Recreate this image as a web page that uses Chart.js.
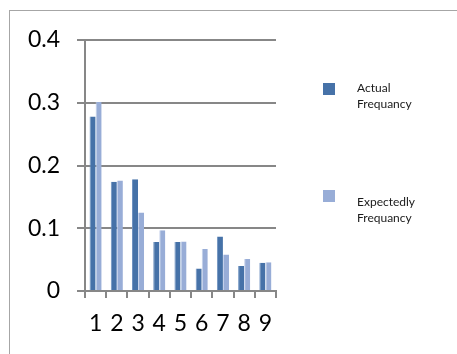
<!DOCTYPE html>
<html>
<head>
<meta charset="utf-8">
<script src="https://cdn.jsdelivr.net/npm/chart.js@4/dist/chart.umd.min.js"></script>
<style>
  html, body { margin: 0; padding: 0; background: #fff; }
  #wrap { position: relative; width: 457px; height: 354px; overflow: hidden; }
  #frame { position: absolute; left: 9px; top: 10px; width: 470px; height: 360px;
           border: 1px solid #a6a6a6; box-sizing: border-box; }
  canvas { position: absolute; left: 0; top: 0; }
</style>
</head>
<body>
<div id="wrap">
  <div id="frame"></div>
  <canvas id="c" width="457" height="354"></canvas>
</div>
<script>
// Leading-digit frequencies: observed vs. Benford expectation
const digits = ['1', '2', '3', '4', '5', '6', '7', '8', '9'];
const actualFrequency = [0.278, 0.174, 0.178, 0.078, 0.078, 0.036, 0.087, 0.040, 0.045];
const expectedFrequency = [0.301, 0.176, 0.125, 0.097, 0.079, 0.067, 0.058, 0.051, 0.046];
const seriesNames = [['Actual', 'Frequancy'], ['Expectedly', 'Frequancy']];
const yTicks = [0, 0.1, 0.2, 0.3, 0.4];

const FONT = 'Lato, "Open Sans", sans-serif';
const GRID = '#878787';

// Two-line legend drawn at the right of the plot
const sideLegend = {
  id: 'sideLegend',
  afterDraw(chart) {
    const ctx = chart.ctx;
    const spots = [{ box: 83, text: 91.5 }, { box: 190, text: 206 }];
    ctx.save();
    ctx.font = '12px ' + FONT;
    ctx.fillStyle = '#1a1a1a';
    ctx.textBaseline = 'alphabetic';
    chart.data.datasets.forEach((ds, i) => {
      const s = spots[i];
      ctx.fillStyle = ds.backgroundColor;
      ctx.fillRect(323, s.box, 12, 12);
      ctx.fillStyle = '#1a1a1a';
      ds.label.forEach((line, j) => {
        ctx.fillText(line, 357, s.text + j * 16);
      });
    });
    ctx.restore();
  }
};

new Chart(document.getElementById('c'), {
  type: 'bar',
  data: {
    labels: digits,
    datasets: [
      { label: seriesNames[0], data: actualFrequency, backgroundColor: '#4672A8',
        borderColor: '#6f92c0', borderWidth: { left: 1, right: 0, top: 0, bottom: 0 } },
      { label: seriesNames[1], data: expectedFrequency, backgroundColor: '#98ADD7',
        borderColor: '#c3d0ea', borderWidth: { left: 1, right: 0, top: 0, bottom: 0 } }
    ]
  },
  options: {
    responsive: false,
    animation: false,
    devicePixelRatio: 1,
    layout: { padding: { left: 0, right: 181, top: 40, bottom: 0 } },
    datasets: { bar: { categoryPercentage: 0.57, barPercentage: 1.0 } },
    plugins: { legend: { display: false }, tooltip: { enabled: false } },
    scales: {
      x: {
        afterFit(s) { s.height = 63; },
        grid: { display: true, drawOnChartArea: false, drawTicks: true, tickLength: 7,
                color: GRID, lineWidth: 2 },
        border: { display: true, color: GRID, width: 2 },
        ticks: { font: { family: FONT, size: 23 }, color: '#000', padding: 12, maxRotation: 0 }
      },
      y: {
        min: 0, max: 0.4,
        afterFit(s) { s.width = 85; },
        afterBuildTicks(s) { s.ticks = yTicks.map(v => ({ value: v })); },
        grid: { color: GRID, lineWidth: 2, tickLength: 8, drawTicks: true },
        border: { display: true, color: GRID, width: 2 },
        ticks: { font: { family: FONT, size: 23 }, color: '#000', padding: 17,
                 callback: v => String(Math.round(v * 10) / 10) }
      }
    }
  },
  plugins: [sideLegend]
});
</script>
</body>
</html>
